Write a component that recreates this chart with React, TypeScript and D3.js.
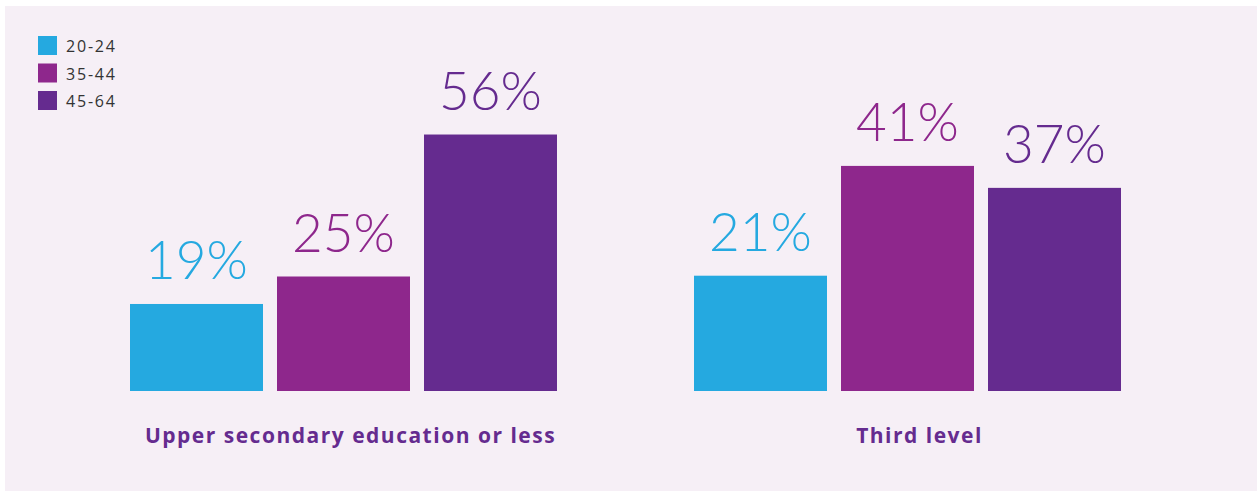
import React from "react";
import * as d3 from "d3";

const groups = ["Upper secondary education or less", "Third level"];
const ageBands = ["20-24", "35-44", "45-64"];
const upperSecondary = [19, 25, 56];
const thirdLevel = [21, 41, 37];
const colors = ["#25a9e0", "#8e278c", "#652b8f"];
// pixels per 100% differ between the two panels in the original
const groupScaleMax = [458, 549];
const labelShift = [7, 12];

const W = 1258;
const H = 491;
const baseline = 391;

export default function App() {
  const series = [upperSecondary, thirdLevel];
  const xGroup = d3.scaleBand<string>().domain(groups).range([130, 1121]).paddingInner(137 / 564).paddingOuter(0);
  const xInner = d3.scaleBand<string>().domain(ageBands).range([0, xGroup.bandwidth()]).paddingInner(14 / 147).paddingOuter(0);
  const yScales = groupScaleMax.map((m) => d3.scaleLinear().domain([0, 100]).range([baseline, baseline - m]));

  return (
    <svg width={W} height={H} style={{ position: "absolute", left: 0, top: 0 }}>
      <rect x={5} y={6} width={1252} height={485} fill="#f6eff6" />
      {groups.map((g, gi) => {
        const gx = xGroup(g)!;
        const y = yScales[gi];
        return (
          <g key={g}>
            {ageBands.map((a, ai) => {
              const v = series[gi][ai];
              const x = gx + xInner(a)!;
              return (
                <g key={a}>
                  <rect x={x} y={y(v)} width={xInner.bandwidth()} height={baseline - y(v)} fill={colors[ai]} />
                  <text
                    x={x + xInner.bandwidth() / 2}
                    y={y(v) - 25}
                    textAnchor="middle"
                    fill={colors[ai]}
                    fontFamily="Lato, 'Open Sans', sans-serif"
                    fontWeight={300}
                    fontSize={53}
                  >
                    {v}%
                  </text>
                </g>
              );
            })}
            <text
              x={gx + xGroup.bandwidth() / 2 + labelShift[gi]}
              y={443}
              textAnchor="middle"
              fill="#652b8f"
              fontFamily="'Open Sans', sans-serif"
              fontWeight={700}
              fontSize={21}
              letterSpacing={1.5}
            >
              {g}
            </text>
          </g>
        );
      })}
      {ageBands.map((a, i) => (
        <g key={a} transform={`translate(38, ${36 + i * 27.5})`}>
          <rect width={19} height={19} fill={colors[i]} />
          <text x={28} y={16} fill="#333" fontFamily="'Open Sans', sans-serif" fontSize={16} letterSpacing={1.8}>
            {a}
          </text>
        </g>
      ))}
    </svg>
  );
}
